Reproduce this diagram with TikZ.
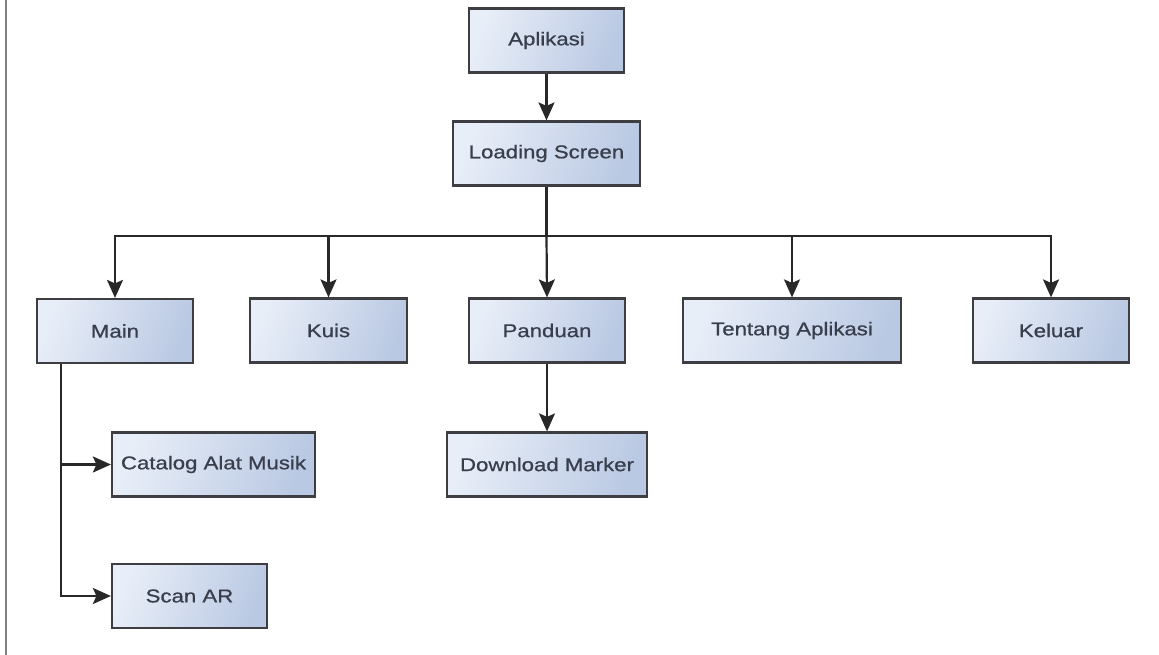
\documentclass[tikz,border=0pt]{standalone}
\usepackage{fontspec}
\setmainfont{Liberation Sans}[FakeStretch=1.2,FakeBold=0.8]
\usetikzlibrary{arrows.meta}
\definecolor{boxline}{RGB}{62,62,66}
\definecolor{boxlight}{RGB}{232,238,248}
\definecolor{boxdark}{RGB}{186,201,227}
\definecolor{txt}{RGB}{56,62,76}
\definecolor{conn}{RGB}{40,40,40}
\definecolor{frame}{RGB}{128,128,128}
\tikzset{
  box/.style={draw=boxline, line width=2.2pt, left color=boxlight, right color=boxdark,
    shading angle=70, minimum height=64pt, inner sep=0pt, text=txt,
    font=\fontsize{18.5pt}{21pt}\selectfont},
  arr/.style={draw=conn, line width=2.2pt, -{Stealth[length=18pt,width=16pt,inset=3.5pt]}},
}
\begin{document}
\begin{tikzpicture}[x=1pt,y=-1pt]
\useasboundingbox (0,0) rectangle (1159,655);
\draw[frame, line width=1.5pt] (6,0) -- (6,655);

\node[box, minimum width=155pt] (apl) at (546.5,40.5) {Aplikasi};
\node[box, minimum width=187pt] (load) at (546.5,153.5) {Loading Screen};
\node[box, minimum width=156pt] (main) at (115,331) {Main};
\node[box, minimum width=157pt] (kuis) at (328.5,330.5) {Kuis};
\node[box, minimum width=156pt] (pand) at (547,330.5) {Panduan};
\node[box, minimum width=218pt] (tent) at (792,330.5) {Tentang Aplikasi};
\node[box, minimum width=156pt] (kel) at (1051,330.5) {Keluar};
\node[box, minimum width=203pt] (cat) at (213.5,464.5) {Catalog Alat Musik};
\node[box, minimum width=200pt] (dl) at (547,464.5) {Download Marker};
\node[box, minimum width=155pt] (scan) at (189.5,596) {Scan AR};

\coordinate (bus) at (0,236);
\coordinate (mv) at (61,0);

\draw[arr] (apl.south) -- (load.north);
\draw[arr] (load.south) -- (load.south |- bus) -| (main.north);
\draw[arr] (load.south |- bus) -| (kuis.north);
\draw[arr] (load.south |- bus) -- (pand.north);
\draw[arr] (load.south |- bus) -| (tent.north);
\draw[arr] (load.south |- bus) -| (kel.north);
\draw[arr] (pand.south) -- (dl.north);
\draw[arr] (main.south -| mv) |- (cat.west);
\draw[arr] (main.south -| mv) |- (scan.west);
\end{tikzpicture}
\end{document}
